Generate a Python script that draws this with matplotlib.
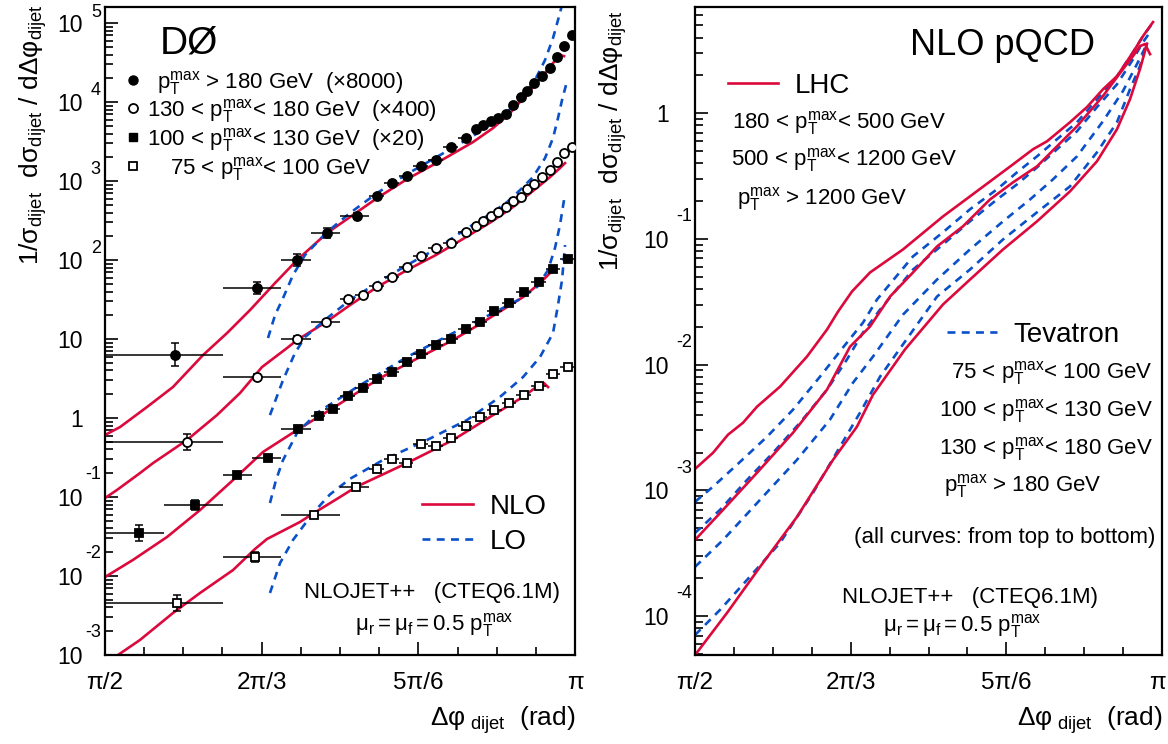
import numpy as np
import matplotlib.pyplot as plt
import matplotlib.transforms as mtransforms
from matplotlib.ticker import FixedLocator, LogLocator, NullFormatter
from matplotlib.lines import Line2D

plt.rcParams['font.family'] = ['Liberation Sans', 'DejaVu Sans']
plt.rcParams['mathtext.fontset'] = 'custom'
plt.rcParams['mathtext.rm'] = 'Liberation Sans'
plt.rcParams['mathtext.it'] = 'Liberation Sans:italic'
plt.rcParams['mathtext.bf'] = 'Liberation Sans:bold'

RED = '#dc0a3c'
BLUE = '#0a50c8'

# ---- D0 data (dphi in units of pi, values as plotted incl. scale factors) ----
x_pt180 = [0.5745, 0.6617, 0.7043, 0.7362, 0.7681, 0.7894, 0.8053, 0.8213, 0.8362, 0.8521,
           0.8681, 0.8840, 0.8947, 0.9021, 0.9106, 0.9181, 0.9266, 0.9340, 0.9426, 0.9489,
           0.9564, 0.9649, 0.9734, 0.9809, 0.9883, 0.9968]
y_pt180 = [6.3, 44, 100, 220, 360, 646, 944, 1156, 1549, 1845,
           2692, 3499, 4550, 5117, 5741, 6266, 7047, 9162, 11560, 13770,
           17400, 21340, 26900, 37150, 51170, 70470]
edges_pt180 = [0.5, 0.625, 0.6875, 0.71875, 0.75, 0.78125, 0.796875, 0.8125, 0.828125, 0.84375,
               0.859375, 0.875, 0.890625, 0.8984, 0.90625, 0.9141, 0.921875, 0.9297, 0.9375, 0.9453,
               0.953125, 0.9609, 0.96875, 0.9766, 0.984375, 0.9922, 1.0]
err_pt180 = [0.4, 0.2, 0.2, 0.15, 0.08, 0.06, 0.05, 0.05, 0.05, 0.05,
             0.04, 0.04, 0.04, 0.04, 0.04, 0.04, 0.04, 0.04, 0.04, 0.04,
             0.04, 0.04, 0.04, 0.04, 0.04, 0.04]

x_pt130 = [0.5872, 0.6617, 0.7043, 0.7351, 0.7585, 0.7745, 0.7894, 0.8053, 0.8213, 0.8362,
           0.8521, 0.8681, 0.8840, 0.8947, 0.9021, 0.9106, 0.9181, 0.9266, 0.9340, 0.9426,
           0.9489, 0.9564, 0.9649, 0.9734, 0.9809, 0.9883, 0.9968]
y_pt130 = [0.497, 3.30, 10.0, 16.4, 32.1, 36.1, 46.9, 61.0, 81.5, 112,
           142, 164, 226, 269, 312, 361, 405, 469, 558, 627,
           792, 917, 1124, 1377, 1741, 2259, 2692]
edges_pt130 = [0.5, 0.625, 0.6875, 0.71875, 0.75, 0.765625, 0.78125, 0.796875, 0.8125, 0.828125,
               0.84375, 0.859375, 0.875, 0.890625, 0.8984, 0.90625, 0.9141, 0.921875, 0.9297, 0.9375,
               0.9453, 0.953125, 0.9609, 0.96875, 0.9766, 0.984375, 0.9922, 1.0]
err_pt130 = [0.25, 0.1, 0.08, 0.06, 0.05, 0.05, 0.04, 0.04, 0.04, 0.04,
             0.04, 0.04, 0.04, 0.04, 0.04, 0.04, 0.04, 0.04, 0.04, 0.04,
             0.04, 0.04, 0.04, 0.04, 0.04, 0.04, 0.04]

x_pt100 = [0.5362, 0.5957, 0.6404, 0.6734, 0.7053, 0.7277, 0.7426, 0.7585, 0.7745, 0.7894,
           0.8053, 0.8213, 0.8362, 0.8521, 0.8681, 0.8840, 0.8989, 0.9138, 0.9298, 0.9457,
           0.9617, 0.9766, 0.9926]
y_pt100 = [0.035, 0.079, 0.19, 0.31, 0.73, 1.06, 1.30, 1.90, 2.40, 3.12,
           3.82, 5.12, 6.46, 8.39, 10.0, 13.4, 16.4, 22.6, 28.6, 39.4,
           52.7, 76.9, 103]
edges_pt100 = [0.5, 0.5625, 0.625, 0.65625, 0.6875, 0.71875, 0.734375, 0.75, 0.765625, 0.78125,
               0.796875, 0.8125, 0.828125, 0.84375, 0.859375, 0.875, 0.890625, 0.90625, 0.921875, 0.9375,
               0.953125, 0.96875, 0.984375, 1.0]
err_pt100 = [0.25, 0.15, 0.1, 0.08, 0.06, 0.05, 0.05, 0.04, 0.04, 0.04,
             0.04, 0.04, 0.04, 0.04, 0.04, 0.04, 0.04, 0.04, 0.04, 0.04,
             0.04, 0.04, 0.04]

x_pt75 = [0.5766, 0.6596, 0.7223, 0.7670, 0.7894, 0.8053, 0.8213, 0.8362, 0.8521, 0.8681,
          0.8840, 0.8989, 0.9138, 0.9298, 0.9457, 0.9617, 0.9766, 0.9926]
y_pt75 = [0.00455, 0.0174, 0.0592, 0.134, 0.226, 0.303, 0.269, 0.469, 0.443, 0.559,
          0.793, 1.03, 1.26, 1.55, 1.95, 2.54, 3.61, 4.43]
edges_pt75 = [0.5, 0.625, 0.6875, 0.75, 0.78125, 0.796875, 0.8125, 0.828125, 0.84375, 0.859375,
              0.875, 0.890625, 0.90625, 0.921875, 0.9375, 0.953125, 0.96875, 0.984375, 1.0]
err_pt75 = [0.25, 0.15, 0.08, 0.06, 0.05, 0.05, 0.04, 0.04, 0.04, 0.04,
            0.04, 0.04, 0.04, 0.04, 0.04, 0.04, 0.04, 0.04]

# ---- NLOJET++ predictions for the D0 bins ----
nlo_pt180_x = [0.5, 0.516, 0.5447, 0.5723, 0.6043, 0.6298, 0.6543, 0.6809, 0.7043, 0.7362, 0.7606,
               0.7894, 0.8213, 0.8564, 0.8915, 0.9128, 0.9309, 0.9489, 0.9628, 0.9766, 0.984, 0.9883]
nlo_pt180_y = [0.61, 0.769, 1.38, 2.47, 6.27, 11.9, 23.3, 51.2, 100, 220, 350,
               609, 1059, 1791, 3119, 4688, 7261, 12620, 19540, 31190, 39360, 38190]
lo_pt180_x = [0.6734, 0.6809, 0.6894, 0.7, 0.7128, 0.7362, 0.7606, 0.7894, 0.8213, 0.8564, 0.8915,
              0.9202, 0.9415, 0.9574, 0.9681, 0.9766, 0.9819, 0.9862]
lo_pt180_y = [10.3, 20.1, 33.0, 64.6, 116, 226, 394, 705, 1227, 2134, 3715,
              6266, 10600, 18970, 34040, 64570, 109100, 169000]

nlo_pt130_x = [0.5, 0.5128, 0.5372, 0.5511, 0.5872, 0.6191, 0.6436, 0.667, 0.6936, 0.7043, 0.7351,
               0.7606, 0.7894, 0.8213, 0.8521, 0.884, 0.9106, 0.934, 0.9564, 0.9734, 0.984, 0.9894]
nlo_pt130_y = [0.097, 0.123, 0.201, 0.269, 0.527, 1.09, 2.07, 4.42, 7.69, 9.71, 16.4,
               26.9, 45.5, 74.7, 116, 195, 303, 469, 769, 1124, 1462, 1690]
lo_pt130_x = [0.6755, 0.6894, 0.7021, 0.7128, 0.7351, 0.7606, 0.7894, 0.8213, 0.8521, 0.884,
              0.9096, 0.9277, 0.9415, 0.9553, 0.9681, 0.9766, 0.9819, 0.9862, 0.9904]
lo_pt130_y = [1.09, 3.03, 6.65, 10.6, 17.9, 31.2, 51.2, 86.4, 138, 247,
              382, 542, 769, 1124, 1955, 3499, 6266, 10600, 16410]

nlo_pt100_x = [0.5, 0.5298, 0.566, 0.6011, 0.6362, 0.6681, 0.7043, 0.7426, 0.7926, 0.8351,
               0.8702, 0.8989, 0.9277, 0.9447, 0.9628, 0.9787]
nlo_pt100_y = [0.0097, 0.016, 0.0312, 0.0684, 0.164, 0.372, 0.705, 1.34, 3.21, 5.92,
               9.71, 15.5, 25.4, 34.0, 51.2, 79.2]
lo_pt100_x = [0.6755, 0.6819, 0.6894, 0.7043, 0.7255, 0.7681, 0.8213, 0.8702, 0.9128, 0.9415,
              0.9596, 0.9713, 0.9787, 0.984, 0.9883]
lo_pt100_y = [0.084, 0.164, 0.294, 0.646, 1.16, 2.47, 5.92, 11.9, 21.3, 32.1,
              45.5, 74.7, 142, 277, 574]

nlo_pt75_x = [0.5138, 0.5372, 0.5723, 0.6011, 0.6362, 0.6596, 0.6723, 0.7074, 0.7223, 0.75,
              0.767, 0.8213, 0.8702, 0.9128, 0.9447, 0.9617, 0.967, 0.9713]
nlo_pt75_y = [0.001, 0.00155, 0.0034, 0.0061, 0.0119, 0.022, 0.0294, 0.0483, 0.0627, 0.1,
              0.134, 0.269, 0.527, 1.09, 1.85, 2.62, 2.77, 2.47]
lo_pt75_x = [0.6755, 0.6862, 0.7, 0.7213, 0.7394, 0.7606, 0.7957, 0.8426, 0.8851, 0.9202, 0.9447,
             0.9628, 0.9766, 0.9819, 0.9862, 0.9894]
lo_pt75_y = [0.0061, 0.0146, 0.0286, 0.0627, 0.108, 0.17, 0.294, 0.527, 0.944, 1.85, 3.30,
             5.92, 11.9, 26.9, 55.8, 155]

# ---- NLO pQCD: LHC vs Tevatron ----
lhc_180_x = [0.5, 0.5193, 0.5353, 0.5514, 0.5664, 0.591, 0.6199, 0.6413, 0.6531, 0.6681, 0.6874,
             0.7227, 0.7655, 0.7944, 0.8233, 0.8405, 0.8619, 0.8769, 0.9015, 0.9197, 0.9368,
             0.9518, 0.969, 0.9797, 0.9872, 0.9904]
lhc_180_y = [1.48e-3, 1.99e-3, 2.77e-3, 3.45e-3, 4.63e-3, 6.68e-3, 1.16e-2, 1.90e-2, 2.64e-2, 3.82e-2, 5.41e-2,
             8.25e-2, 0.151, 0.218, 0.315, 0.392, 0.517, 0.598, 0.848, 1.12, 1.55,
             1.97, 3.06, 4.11, 4.93, 5.31]
lhc_500_x = [0.5, 0.53, 0.5664, 0.6049, 0.6413, 0.666, 0.6874, 0.7088, 0.7334, 0.7591, 0.7869,
             0.8158, 0.8405, 0.8662, 0.8876, 0.909, 0.9368, 0.9582, 0.969, 0.9764, 0.9818, 0.9872]
lhc_500_y = [4.03e-4, 7.0e-4, 1.38e-3, 2.87e-3, 6.32e-3, 1.39e-2, 2.01e-2, 3.48e-2, 5.41e-2, 8.71e-2, 0.126,
             0.206, 0.282, 0.378, 0.546, 0.788, 1.37, 2.24, 2.85, 3.42, 3.55, 2.95]
lhc_1200_x = [0.5, 0.5343, 0.5696, 0.6092, 0.6478, 0.6734, 0.6906, 0.7248, 0.7655, 0.7944,
              0.8298, 0.8662, 0.9015, 0.9304, 0.9518, 0.9657, 0.9764, 0.9839]
lhc_1200_y = [4.89e-5, 1.06e-4, 2.46e-4, 6.15e-4, 1.75e-3, 3.21e-3, 5.77e-3, 1.32e-2, 3.01e-2, 4.75e-2,
              8.25e-2, 0.138, 0.239, 0.415, 0.746, 1.29, 2.24, 3.55]

tev_75_x = [0.5, 0.5193, 0.545, 0.5771, 0.6049, 0.6338, 0.6585, 0.6799, 0.6949, 0.7334, 0.7655,
            0.7944, 0.8233, 0.8448, 0.8662, 0.8876, 0.909, 0.9304, 0.9518, 0.969, 0.9797, 0.9893]
tev_75_y = [8.1e-4, 1.07e-3, 1.60e-3, 2.67e-3, 4.38e-3, 8.02e-3, 1.37e-2, 2.16e-2, 3.30e-2, 7.26e-2, 0.113,
            0.172, 0.248, 0.339, 0.454, 0.621, 0.848, 1.29, 1.97, 3.06, 4.11, 5.12]
tev_100_x = [0.5, 0.5268, 0.5557, 0.5835, 0.6124, 0.6413, 0.6627, 0.6799, 0.6981, 0.7334, 0.7655,
             0.7944, 0.8233, 0.8448, 0.8662, 0.8876, 0.909, 0.9304, 0.9518, 0.969, 0.9797, 0.9872]
tev_100_y = [4.58e-4, 7.0e-4, 1.21e-3, 1.99e-3, 3.45e-3, 6.32e-3, 1.10e-2, 1.80e-2, 2.74e-2, 5.71e-2, 9.04e-2,
             0.138, 0.206, 0.272, 0.371, 0.517, 0.719, 1.12, 1.70, 2.69, 3.68, 4.42]
tev_130_x = [0.5, 0.53, 0.5696, 0.6092, 0.6445, 0.6692, 0.6906, 0.7227, 0.7591, 0.7944,
             0.8298, 0.8587, 0.8833, 0.909, 0.9368, 0.9582, 0.9732, 0.9839]
tev_130_y = [2.46e-4, 4.03e-4, 8.4e-4, 1.75e-3, 3.65e-3, 7.19e-3, 1.16e-2, 0.025, 0.0475, 0.0825,
             0.138, 0.206, 0.298, 0.454, 0.863, 1.50, 2.46, 3.55]
tev_180_x = [0.5, 0.5268, 0.5557, 0.591, 0.6263, 0.6552, 0.6767, 0.6981, 0.7591, 0.7944,
             0.8298, 0.8662, 0.9015, 0.9304, 0.9518, 0.9657, 0.9764, 0.9839]
tev_180_y = [7.06e-5, 1.12e-4, 1.94e-4, 3.82e-4, 9.55e-4, 2.22e-3, 4.15e-3, 8.02e-3, 3.48e-2, 5.71e-2,
             9.91e-2, 0.163, 0.262, 0.489, 0.848, 1.55, 2.37, 3.68]

# tick labels
xtick_labels = ['π/2', '2π/3', '5π/6', 'π']
left_yticks = [1e-3, 1e-2, 1e-1, 1, 10, 1e2, 1e3, 1e4, 1e5]
left_ybase = ['10', '10', '10', '1', '10', '10', '10', '10', '10']
left_yexp = ['-3', '-2', '-1', '', '', '2', '3', '4', '5']
right_yticks = [1e-4, 1e-3, 1e-2, 1e-1, 1]
right_ybase = ['10', '10', '10', '10', '1']
right_yexp = ['-4', '-3', '-2', '-1', '']

W, H = 1168, 744
fig = plt.figure(figsize=(W / 100, H / 100), dpi=100)


def fpos(px, py):
    return px / W, 1 - py / H


def label(px, py, s, size, ha='left'):
    # py is the vertical centre of the capitals
    x, y = fpos(px, py + 0.5 * size)
    fig.text(x, y, s, fontsize=size, ha=ha, va='baseline')


def key_line(px0, px1, py, **kw):
    x0, y = fpos(px0, py)
    x1, _ = fpos(px1, py)
    fig.add_artist(Line2D([x0, x1], [y, y], transform=fig.transFigure, **kw))


def key_marker(px, py, **kw):
    x, y = fpos(px, py)
    fig.add_artist(Line2D([x], [y], transform=fig.transFigure, ls='none', **kw))


def setup(ax, yticks, ybase, yexp, ylim, ypad, exp_dx):
    ax.set_yscale('log')
    ax.set_xlim(np.pi / 2, np.pi)
    ax.set_ylim(*ylim)
    ax.xaxis.set_major_locator(FixedLocator(np.pi * np.array([1 / 2, 2 / 3, 5 / 6, 1])))
    ax.xaxis.set_minor_locator(FixedLocator(np.pi * np.arange(12, 25) / 24))
    ax.set_xticklabels(xtick_labels)
    ax.yaxis.set_major_locator(FixedLocator(yticks))
    ax.set_yticklabels(ybase)
    ax.yaxis.set_minor_locator(LogLocator(base=10, subs=np.arange(2, 10), numticks=60))
    ax.yaxis.set_minor_formatter(NullFormatter())
    ax.tick_params(which='both', direction='in', top=False, right=False, width=1.2)
    ax.tick_params(which='major', length=9.5)
    ax.tick_params(which='minor', length=5.5)
    ax.tick_params(axis='x', pad=12, labelsize=17.5)
    ax.tick_params(axis='y', pad=ypad, labelsize=16.5)
    for s in ax.spines.values():
        s.set_linewidth(1.6)
    for v, e in zip(yticks, yexp):
        if e:
            dy = 16 if e.startswith('-') else 8
            ax.annotate(e, xy=(0, v), xycoords=ax.get_yaxis_transform(), xytext=(exp_dx, dy),
                        textcoords='offset points', ha='right', va='center', fontsize=13)


def draw_data(ax, x, y, edges, rel, marker, face, ms):
    x = np.array(x) * np.pi
    y = np.array(y)
    e = np.array(edges) * np.pi
    r = np.array(rel)
    ax.errorbar(x, y, xerr=[x - e[:-1], e[1:] - x], fmt='none', ecolor='black', elinewidth=1.1, zorder=3)
    ax.errorbar(x, y, yerr=[y * r / (1 + r), y * r], fmt='none', ecolor='black', elinewidth=1.1,
                capsize=3, capthick=1.1, zorder=3)
    ax.plot(x, y, ls='none', marker=marker, ms=ms, mfc=face, mec='black', mew=1.3, zorder=4)


nlo_kw = dict(color=RED, lw=1.9, zorder=2)
lo_kw = dict(color=BLUE, lw=1.9, ls=(0, (3.0, 2.4)), zorder=2)

TXT = 16      # small annotation text
KEY = 20      # legend headers

# ---------------- left panel ----------------
axL = fig.add_axes([105 / W, 1 - 655 / H, 470 / W, 648 / H])
setup(axL, left_yticks, left_ybase, left_yexp, (1e-3, 1.6e5), 16, -3)

for xs, ys in [(nlo_pt180_x, nlo_pt180_y), (nlo_pt130_x, nlo_pt130_y),
               (nlo_pt100_x, nlo_pt100_y), (nlo_pt75_x, nlo_pt75_y)]:
    axL.plot(np.array(xs) * np.pi, ys, **nlo_kw)
for xs, ys in [(lo_pt180_x, lo_pt180_y), (lo_pt130_x, lo_pt130_y),
               (lo_pt100_x, lo_pt100_y), (lo_pt75_x, lo_pt75_y)]:
    axL.plot(np.array(xs) * np.pi, ys, **lo_kw)

draw_data(axL, x_pt180, y_pt180, edges_pt180, err_pt180, 'o', 'black', 6.5)
draw_data(axL, x_pt130, y_pt130, edges_pt130, err_pt130, 'o', 'white', 6.5)
draw_data(axL, x_pt100, y_pt100, edges_pt100, err_pt100, 's', 'black', 6)
draw_data(axL, x_pt75, y_pt75, edges_pt75, err_pt75, 's', 'white', 6)

PT = r'$\mathrm{p_T^{max}}$'
label(160, 40, 'DØ', 28)
key_marker(133, 80, marker='o', ms=6.5, mfc='black', mec='black')
key_marker(133, 108, marker='o', ms=6.5, mfc='white', mec='black', mew=1.3)
key_marker(133, 137, marker='s', ms=6, mfc='black', mec='black')
key_marker(133, 166, marker='s', ms=6, mfc='white', mec='black', mew=1.3)
label(157, 80, PT + ' > 180 GeV  (×8000)', TXT)
label(147, 108, '130 < ' + PT + '< 180 GeV  (×400)', TXT)
label(147, 137, '100 < ' + PT + '< 130 GeV  (×20)', TXT)
label(170, 166, '75 < ' + PT + '< 100 GeV', TXT)

key_line(422, 473, 504, color=RED, lw=1.9)
key_line(422, 473, 539, color=BLUE, lw=1.9, ls=(0, (3.0, 2.4)))
label(490, 504, 'NLO', KEY)
label(490, 539, 'LO', KEY)
label(432, 590, 'NLOJET++   (CTEQ6.1M)', TXT, ha='center')
label(434, 622, r'$\mathrm{μ_r = μ_f = 0.5\ p_T^{max}}$', TXT, ha='center')

YLAB = r'$\mathrm{1/σ_{dijet}\ \ dσ_{dijet}\ /\ dΔφ_{dijet}}$'
XLAB = r'$\mathrm{Δφ_{\ dijet}}$  (rad)'
fig.text(*fpos(33, 4), YLAB, rotation=90, ha='center', va='top', fontsize=19)
label(575, 716, XLAB, 19, ha='right')

# ---------------- right panel ----------------
axR = fig.add_axes([695 / W, 1 - 655 / H, 467 / W, 648 / H])
setup(axR, right_yticks, right_ybase, right_yexp, (4.9e-5, 7.0), 19, -2)
# keep the last "π" label inside the canvas
pi_lab = axR.get_xticklabels()[-1]
pi_lab.set_transform(pi_lab.get_transform() + mtransforms.ScaledTranslation(-0.05, 0, fig.dpi_scale_trans))

for xs, ys in [(tev_75_x, tev_75_y), (tev_100_x, tev_100_y),
               (tev_130_x, tev_130_y), (tev_180_x, tev_180_y)]:
    axR.plot(np.array(xs) * np.pi, ys, **lo_kw)
for xs, ys in [(lhc_180_x, lhc_180_y), (lhc_500_x, lhc_500_y), (lhc_1200_x, lhc_1200_y)]:
    axR.plot(np.array(xs) * np.pi, ys, **nlo_kw)

label(1003, 42, 'NLO pQCD', 26, ha='center')
key_line(728, 778, 83, color=RED, lw=1.9)
label(795, 83, 'LHC', KEY)
label(732, 120, '180 < ' + PT + '< 500 GeV', TXT)
label(731, 157, '500 < ' + PT + '< 1200 GeV', TXT)
label(737, 196, PT + ' > 1200 GeV', TXT)

key_line(947, 997, 332, color=BLUE, lw=1.9, ls=(0, (3.0, 2.4)))
label(1013, 332, 'Tevatron', KEY)
label(1153, 370, '75 < ' + PT + '< 100 GeV', TXT, ha='right')
label(1153, 408, '100 < ' + PT + '< 130 GeV', TXT, ha='right')
label(1153, 446, '130 < ' + PT + '< 180 GeV', TXT, ha='right')
label(944, 483, PT + ' > 180 GeV', TXT)
label(1155, 535, '(all curves: from top to bottom)', TXT, ha='right')
label(970, 595, 'NLOJET++   (CTEQ6.1M)', TXT, ha='center')
label(962, 623, r'$\mathrm{μ_r = μ_f = 0.5\ p_T^{max}}$', TXT, ha='center')

fig.text(*fpos(613, 10), YLAB, rotation=90, ha='center', va='top', fontsize=19)
label(1162, 716, XLAB, 19, ha='right')

fig.savefig('out.png', dpi=100)
